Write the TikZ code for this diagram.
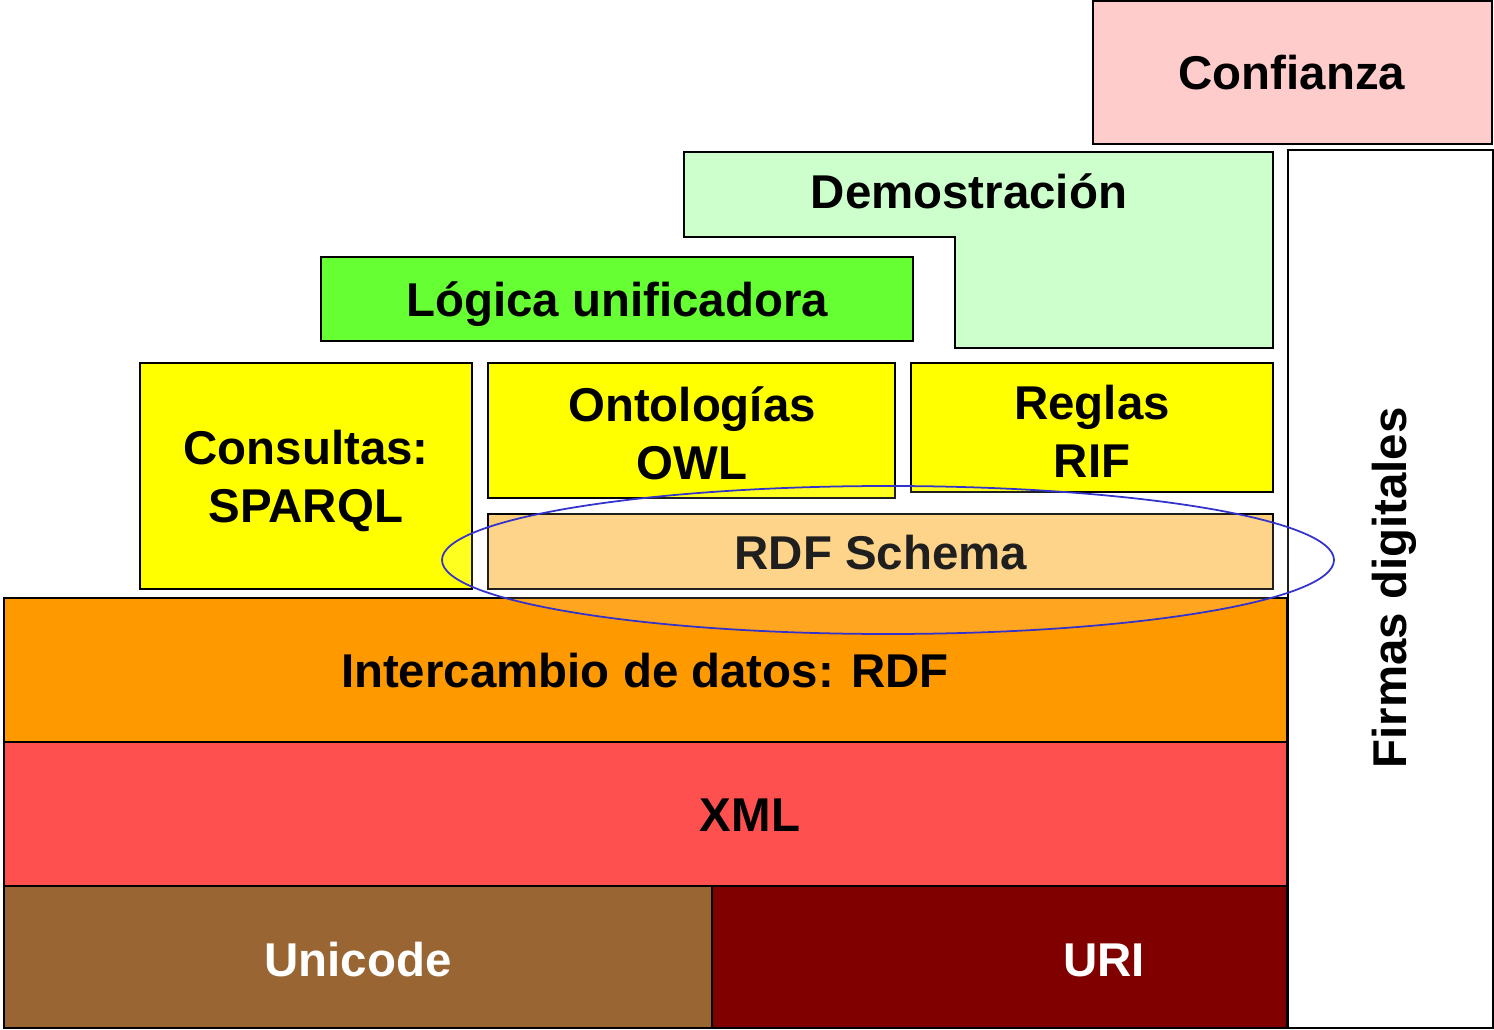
\documentclass[tikz,border=0pt]{standalone}
\usepackage{fontspec}
\setmainfont{Liberation Sans}
\usetikzlibrary{shapes.geometric}
\definecolor{cConf}{HTML}{FFCCCC}
\definecolor{cDemo}{HTML}{CCFFCC}
\definecolor{cLog}{HTML}{66FF33}
\definecolor{cYel}{HTML}{FFFF00}
\definecolor{cRDFS}{HTML}{FDCF7A}
\definecolor{cRDF}{HTML}{FF9900}
\definecolor{cXML}{HTML}{FF5050}
\definecolor{cUni}{HTML}{996633}
\definecolor{cURI}{HTML}{800000}
\definecolor{cEll}{HTML}{3333CC}
\tikzset{
  box/.style={draw=black, line width=0.9pt},
  lbl/.style={font=\fontsize{27}{31}\selectfont\bfseries, align=center, inner sep=0pt},
}
\begin{document}
\begin{tikzpicture}[x=0.02cm, y=-0.02cm]
\useasboundingbox (0,0) rectangle (1494,1030);
% boxes
\draw[box, fill=cConf] (1093,1) rectangle (1492,144);
\draw[box, fill=white] (1288,150) rectangle (1493,1028);
\draw[box, fill=cDemo] (684,152) -- (1273,152) -- (1273,348) -- (955,348) -- (955,237) -- (684,237) -- cycle;
\draw[box, fill=cLog] (321,257) rectangle (913,341);
\draw[box, fill=cYel] (140,363) rectangle (472,589);
\draw[box, fill=cYel] (488,363) rectangle (895,498);
\draw[box, fill=cYel] (911,363) rectangle (1273,492);
\draw[box, fill=cRDFS] (488,514) rectangle (1273,589);
\draw[box, fill=cRDF] (4,598) rectangle (1287,742);
\draw[box, fill=cXML] (4,742) rectangle (1287,886);
\draw[box, fill=cUni] (4,886) rectangle (712,1028);
\draw[box, fill=cURI] (712,886) rectangle (1287,1028);
% texts
\node[lbl] (conf) at (1292,73) {Confianza};
\node[lbl, rotate=90] (firm) at (1394,588) {Firmas digitales};
\node[lbl] (demo) at (969,191) {Demostración};
\node[lbl] (logi) at (617,304) {Lógica unificadora};
\node[lbl] (cons) at (306,481) {Consultas:\\[2.5pt]SPARQL};
\node[lbl] (onto) at (692,433) {Ontologías\\[2pt]OWL};
\node[lbl] (regl) at (1092,431) {Reglas\\[2pt]RIF};
\node[lbl, text=black] (rdfs) at (881,553) {RDF Schema};
\node[lbl] (rdf) at (645,671) {Intercambio de datos: RDF};
\node[lbl] (xml) at (750,815) {XML};
\node[lbl, text=white] (uni) at (358,960) {Unicode};
\node[lbl, text=white] (uri) at (1104,960) {URI};
% ellipse
\draw[cEll, line width=1pt, fill=white, fill opacity=0.12] (888,560) ellipse [x radius=446, y radius=74];
\end{tikzpicture}
\end{document}
